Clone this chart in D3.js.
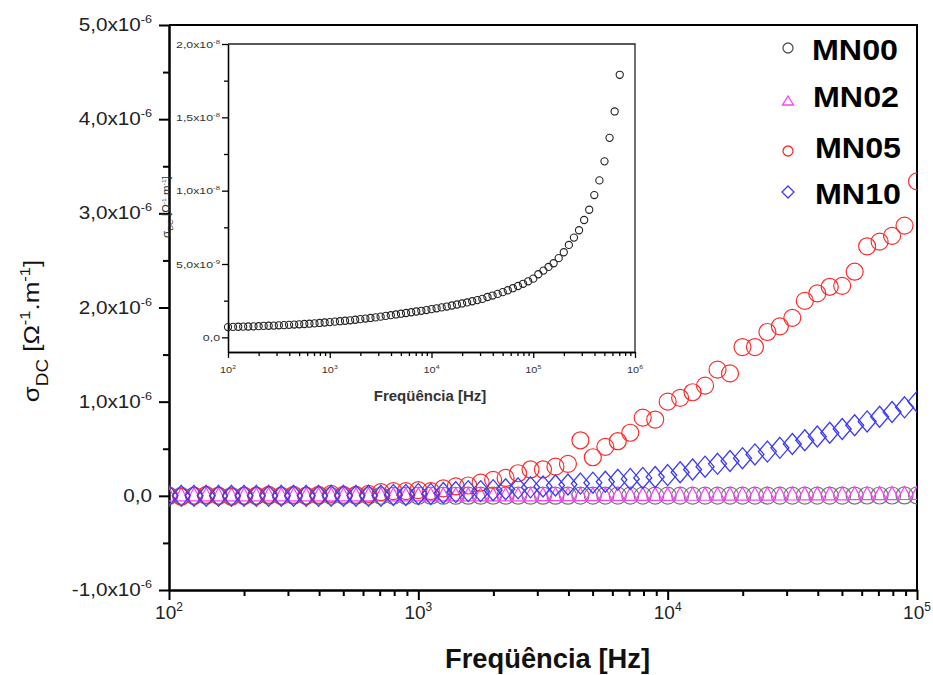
<!DOCTYPE html>
<html>
<head>
<meta charset="utf-8">
<script src="https://cdn.jsdelivr.net/npm/d3@7"></script>
<style>
  body { margin: 0; background: #fff; }
  svg text { font-family: "Liberation Sans", Arial, sans-serif; }
</style>
</head>
<body>
<div id="chart-area"></div>
<script>
// frequency sweep (Hz), 20 points per decade
const freq = [100, 112, 126, 141, 158, 178, 200, 224, 251, 282, 316, 355, 398, 447, 501, 562, 631, 708, 794, 891,
  1000, 1122, 1259, 1413, 1585, 1778, 1995, 2239, 2512, 2818, 3162, 3548, 3981, 4467, 5012, 5623, 6310, 7079, 7943, 8913,
  10000, 11220, 12589, 14125, 15849, 17783, 19953, 22387, 25119, 28184, 31623, 35481, 39811, 44668, 50119, 56234, 63096, 70795, 79433, 89125,
  100000, 112202, 125893, 141254, 158489, 177828, 199526, 223872, 251189, 281838, 316228, 354813, 398107, 446684, 501187, 562341, 630957, 707946]

// MN00 in units of 1e-8 (inset)
const mn00 = [0.070, 0.071, 0.072, 0.073, 0.074, 0.075, 0.076, 0.078, 0.079, 0.080, 0.082,
  0.083, 0.085, 0.087, 0.089, 0.091, 0.093, 0.095, 0.098, 0.101, 0.104,
  0.107, 0.110, 0.113, 0.116, 0.120, 0.124, 0.128, 0.132, 0.136, 0.141,
  0.146, 0.151, 0.156, 0.161, 0.166, 0.171, 0.176, 0.181, 0.186, 0.192,
  0.198, 0.204, 0.210, 0.217, 0.224, 0.231, 0.238, 0.246, 0.254, 0.262,
  0.275, 0.285, 0.296, 0.308, 0.321, 0.335, 0.350, 0.365, 0.382, 0.400,
  0.43, 0.455, 0.48, 0.505, 0.54, 0.58, 0.63, 0.68, 0.73, 0.80,
  0.87, 0.97, 1.07, 1.20, 1.36, 1.54, 1.79]

// main chart series in units of 1e-6 (100 Hz .. 100 kHz)
const mn02 = [0, 0, 0, 0, 0, 0, 0, 0, 0, 0, 0, 0, 0, 0, 0, 0, 0, 0, 0, 0,
  0, 0, 0, 0, 0, 0, 0, 0, 0, 0, 0.002, 0.002, 0.003, 0.003, 0.003, 0.004, 0.004, 0.004, 0.005, 0.005,
  0.005, 0.006, 0.006, 0.006, 0.007, 0.007, 0.008, 0.008, 0.008, 0.009, 0.009, 0.010, 0.010, 0.011, 0.011, 0.012, 0.012, 0.013, 0.013, 0.014, 0.015]
const mn05 = [0.00, -0.01, 0.00, 0.01, 0.00, -0.01, 0.00, 0.00, 0.01, 0.00, 0.01, 0.00, 0.01, 0.02, 0.01,
  0.01, 0.02, 0.04, 0.05, 0.05, 0.06, 0.05, 0.08, 0.10, 0.11, 0.14,
  0.17, 0.19, 0.24, 0.28, 0.28, 0.31, 0.34, 0.59, 0.41, 0.52, 0.58, 0.67, 0.83, 0.81,
  1.00, 1.04, 1.10, 1.17, 1.34, 1.30, 1.58, 1.58, 1.74, 1.80, 1.89, 2.07, 2.15, 2.22, 2.23, 2.38, 2.65, 2.70, 2.76, 2.87, 3.34]
const mn10 = [0, 0, 0, 0, 0, 0, 0, 0, 0, 0, 0, 0, 0, 0, 0, 0, 0, 0,
  0.01, 0.01, 0.02, 0.02, 0.03, 0.04, 0.05, 0.05, 0.06, 0.07, 0.08, 0.09, 0.10, 0.11, 0.12, 0.13, 0.14, 0.15, 0.17, 0.18, 0.19, 0.20,
  0.22, 0.25, 0.28, 0.31, 0.34, 0.37, 0.40, 0.44, 0.47, 0.51, 0.55, 0.59, 0.63, 0.67, 0.71, 0.75, 0.79, 0.84, 0.89, 0.94, 1.00]

const seriesNames = ["MN00", "MN02", "MN05", "MN10"]
const seriesColors = ["#777777", "#ff3cff", "#ff2a2a", "#3a3aff"]

// tick labels
const yMajor = [-1, 0, 1, 2, 3, 4, 5]
const yTickText = [["-1,0x10", "-6"], ["0,0", ""], ["1,0x10", "-6"], ["2,0x10", "-6"], ["3,0x10", "-6"], ["4,0x10", "-6"], ["5,0x10", "-6"]]
const xMajor = [1e2, 1e3, 1e4, 1e5]
const xTickExp = ["2", "3", "4", "5"]
const insetYMajor = [0, 0.5, 1, 1.5, 2]
const insetYText = [["0,0", ""], ["5,0x10", "-9"], ["1,0x10", "-8"], ["1,5x10", "-8"], ["2,0x10", "-8"]]
const insetXMajor = [1e2, 1e3, 1e4, 1e5, 1e6]
const insetXExp = ["2", "3", "4", "5", "6"]

const WIDTH = 933
const HEIGHT = 675
const MARGIN = { LEFT: 169, RIGHT: 917, TOP: 25, BOTTOM: 590 }
const INSET = { LEFT: 228, RIGHT: 635, TOP: 44, BOTTOM: 352 }

const svg = d3.select("#chart-area").append("svg")
  .attr("width", WIDTH)
  .attr("height", HEIGHT)

function minorLog(lo, hi) {
  const out = []
  for (let e = lo; e < hi; e++) {
    for (let k = 2; k <= 9; k++) out.push(k * Math.pow(10, e))
  }
  return out
}

// scales
const x = d3.scaleLog().domain([1e2, 1e5]).range([MARGIN.LEFT, MARGIN.RIGHT])
const y = d3.scaleLinear().domain([-1, 5]).range([MARGIN.BOTTOM, MARGIN.TOP])
const xi = d3.scaleLog().domain([1e2, 1e6]).range([INSET.LEFT, INSET.RIGHT])
const yi = d3.scaleLinear().domain([-0.1, 2.0]).range([INSET.BOTTOM, INSET.TOP])

/******************** main axes ********************/
function styleAxis(g, w) {
  g.select(".domain").attr("stroke", "#000").attr("stroke-width", w)
  g.selectAll(".tick line").attr("stroke", "#000").attr("stroke-width", w)
}

svg.append("g")
  .attr("transform", `translate(${MARGIN.LEFT},0)`)
  .call(d3.axisLeft(y).tickValues(d3.range(-0.5, 5, 1)).tickSize(6).tickSizeOuter(0).tickFormat(""))
  .call(g => styleAxis(g, 2))
svg.append("g")
  .attr("transform", `translate(${MARGIN.LEFT},0)`)
  .call(d3.axisLeft(y).tickValues(yMajor).tickSize(10).tickSizeOuter(0).tickFormat(""))
  .call(g => styleAxis(g, 2))
svg.append("g")
  .attr("transform", `translate(0,${MARGIN.BOTTOM})`)
  .call(d3.axisBottom(x).tickValues(minorLog(2, 5)).tickSize(6).tickSizeOuter(0).tickFormat(""))
  .call(g => styleAxis(g, 2))
svg.append("g")
  .attr("transform", `translate(0,${MARGIN.BOTTOM})`)
  .call(d3.axisBottom(x).tickValues(xMajor).tickSize(10).tickSizeOuter(0).tickFormat(""))
  .call(g => styleAxis(g, 2))

// frame top / right
svg.append("path")
  .attr("d", `M${MARGIN.LEFT},${MARGIN.TOP}H${MARGIN.RIGHT}V${MARGIN.BOTTOM}`)
  .attr("fill", "none").attr("stroke", "#000").attr("stroke-width", 2)

// y tick labels
yMajor.forEach((v, i) => {
  const t = svg.append("text")
    .attr("transform", `translate(152,${y(v) + 6}) scale(1.15,1)`)
    .attr("text-anchor", "end")
    .attr("font-size", 18)
    .attr("fill", "#222")
  t.append("tspan").text(yTickText[i][0])
  if (yTickText[i][1]) t.append("tspan").attr("dy", -8).attr("font-size", 11).text(yTickText[i][1])
})

// x tick labels
xMajor.forEach((v, i) => {
  const t = svg.append("text")
    .attr("transform", `translate(${x(v)},619)`)
    .attr("text-anchor", "middle")
    .attr("font-size", 19)
    .attr("fill", "#222")
  t.append("tspan").text("10")
  t.append("tspan").attr("dy", -8).attr("font-size", 12).text(xTickExp[i])
})

// axis titles
svg.append("text")
  .attr("x", 445).attr("y", 668)
  .attr("font-size", 28).attr("font-weight", "bold")
  .attr("textLength", 205).attr("lengthAdjust", "spacingAndGlyphs")
  .attr("fill", "#111")
  .text("Freqüência [Hz]")

const yTitle = svg.append("text")
  .attr("transform", "translate(39,331) rotate(-90) scale(1.18,1)")
  .attr("text-anchor", "middle")
  .attr("font-size", 22)
  .attr("fill", "#111")
yTitle.append("tspan").text("σ")
yTitle.append("tspan").attr("dy", 9).attr("font-size", 16).text("DC")
yTitle.append("tspan").attr("dy", -9).text(" [Ω")
yTitle.append("tspan").attr("dy", -9).attr("font-size", 14).text("-1")
yTitle.append("tspan").attr("dy", 9).text(".m")
yTitle.append("tspan").attr("dy", -9).attr("font-size", 14).text("-1")
yTitle.append("tspan").attr("dy", 9).text("]")

/******************** main data ********************/
svg.append("clipPath").attr("id", "plot-clip")
  .append("rect")
  .attr("x", MARGIN.LEFT).attr("y", MARGIN.TOP)
  .attr("width", MARGIN.RIGHT - MARGIN.LEFT).attr("height", MARGIN.BOTTOM - MARGIN.TOP)

const plot = svg.append("g").attr("clip-path", "url(#plot-clip)")
const mainFreq = freq.slice(0, 61)

const triPath = "M0,-8L7,5L-7,5Z"
const diaPath = "M0,-10.5L9,0L0,10.5L-9,0Z"

plot.selectAll(".mn00").data(mainFreq).enter().append("circle")
  .attr("class", "mn00")
  .attr("cx", d => x(d)).attr("cy", (d, i) => y(mn00[i] * 0.01))
  .attr("r", 8.5)
  .attr("fill", "none").attr("stroke", seriesColors[0]).attr("stroke-width", 1.2)

plot.selectAll(".mn02").data(mainFreq).enter().append("path")
  .attr("class", "mn02")
  .attr("transform", (d, i) => `translate(${x(d)},${y(mn02[i])})`)
  .attr("d", triPath)
  .attr("fill", "none").attr("stroke", seriesColors[1]).attr("stroke-width", 1.2)

plot.selectAll(".mn05").data(mainFreq).enter().append("circle")
  .attr("class", "mn05")
  .attr("cx", d => x(d)).attr("cy", (d, i) => y(mn05[i]))
  .attr("r", 8.5)
  .attr("fill", "none").attr("stroke", seriesColors[2]).attr("stroke-width", 1.2)

plot.selectAll(".mn10").data(mainFreq).enter().append("path")
  .attr("class", "mn10")
  .attr("transform", (d, i) => `translate(${x(d)},${y(mn10[i])})`)
  .attr("d", diaPath)
  .attr("fill", "none").attr("stroke", seriesColors[3]).attr("stroke-width", 1.3)

/******************** legend ********************/
const legendY = [48, 101, 151, 192]
const legendTextY = [60, 107, 158, 204]
const legendTextX = [812, 813, 815, 815]
const legend = svg.append("g")
legend.append("circle").attr("cx", 788).attr("cy", legendY[0]).attr("r", 5)
  .attr("fill", "none").attr("stroke", "#555").attr("stroke-width", 1.3)
legend.append("path").attr("transform", `translate(788,${legendY[1]})`).attr("d", "M0,-5L5.5,4L-5.5,4Z")
  .attr("fill", "none").attr("stroke", seriesColors[1]).attr("stroke-width", 1.3)
legend.append("circle").attr("cx", 788).attr("cy", legendY[2]).attr("r", 5)
  .attr("fill", "none").attr("stroke", seriesColors[2]).attr("stroke-width", 1.3)
legend.append("path").attr("transform", `translate(788,${legendY[3]})`).attr("d", "M0,-6L6,0L0,6L-6,0Z")
  .attr("fill", "none").attr("stroke", seriesColors[3]).attr("stroke-width", 1.3)
seriesNames.forEach((name, i) => {
  legend.append("text")
    .attr("x", legendTextX[i]).attr("y", legendTextY[i])
    .attr("font-size", 30).attr("font-weight", "bold")
    .attr("textLength", 86).attr("lengthAdjust", "spacingAndGlyphs")
    .attr("fill", "#000")
    .text(name)
})

/******************** inset ********************/
const inset = svg.append("g")

inset.append("g")
  .attr("transform", `translate(${INSET.LEFT},0)`)
  .call(d3.axisLeft(yi).tickValues([0.25, 0.75, 1.25, 1.75]).tickSize(4).tickSizeOuter(0).tickFormat(""))
  .call(g => styleAxis(g, 1.3))
inset.append("g")
  .attr("transform", `translate(${INSET.LEFT},0)`)
  .call(d3.axisLeft(yi).tickValues(insetYMajor).tickSize(6).tickSizeOuter(0).tickFormat(""))
  .call(g => styleAxis(g, 1.3))
inset.append("g")
  .attr("transform", `translate(0,${INSET.BOTTOM})`)
  .call(d3.axisBottom(xi).tickValues(minorLog(2, 6)).tickSize(4).tickSizeOuter(0).tickFormat(""))
  .call(g => styleAxis(g, 1.3))
inset.append("g")
  .attr("transform", `translate(0,${INSET.BOTTOM})`)
  .call(d3.axisBottom(xi).tickValues(insetXMajor).tickSize(6).tickSizeOuter(0).tickFormat(""))
  .call(g => styleAxis(g, 1.3))
inset.append("path")
  .attr("d", `M${INSET.LEFT},${INSET.TOP}H${INSET.RIGHT}V${INSET.BOTTOM}`)
  .attr("fill", "none").attr("stroke", "#222").attr("stroke-width", 1.3)

insetYMajor.forEach((v, i) => {
  const t = inset.append("text")
    .attr("transform", `translate(220,${yi(v) + 3.5}) scale(1.3,1)`)
    .attr("text-anchor", "end")
    .attr("font-size", 9.5)
    .attr("fill", "#333")
  t.append("tspan").text(insetYText[i][0])
  if (insetYText[i][1]) t.append("tspan").attr("dy", -4).attr("font-size", 6).text(insetYText[i][1])
})

insetXMajor.forEach((v, i) => {
  const t = inset.append("text")
    .attr("transform", `translate(${xi(v)},373) scale(1.15,1)`)
    .attr("text-anchor", "middle")
    .attr("font-size", 9.5)
    .attr("fill", "#333")
  t.append("tspan").text("10")
  t.append("tspan").attr("dy", -4).attr("font-size", 6).text(insetXExp[i])
})

inset.append("text")
  .attr("x", 430).attr("y", 401)
  .attr("text-anchor", "middle")
  .attr("font-size", 15).attr("font-weight", "bold")
  .attr("fill", "#333")
  .text("Freqüência [Hz]")

const yiTitle = inset.append("text")
  .attr("transform", "translate(170,207) rotate(-90) scale(1.15,1)")
  .attr("text-anchor", "middle")
  .attr("font-size", 10)
  .attr("fill", "#333")
yiTitle.append("tspan").text("σ")
yiTitle.append("tspan").attr("dy", 3).attr("font-size", 7).text("DC")
yiTitle.append("tspan").attr("dy", -3).text(" [Ω")
yiTitle.append("tspan").attr("dy", -4).attr("font-size", 6).text("-1")
yiTitle.append("tspan").attr("dy", 4).text(".m")
yiTitle.append("tspan").attr("dy", -4).attr("font-size", 6).text("-1")
yiTitle.append("tspan").attr("dy", 4).text("]")

inset.selectAll(".pt").data(freq).enter().append("circle")
  .attr("class", "pt")
  .attr("cx", d => xi(d)).attr("cy", (d, i) => yi(mn00[i]))
  .attr("r", 3.6)
  .attr("fill", "none").attr("stroke", "#222").attr("stroke-width", 1.1)
</script>
</body>
</html>
